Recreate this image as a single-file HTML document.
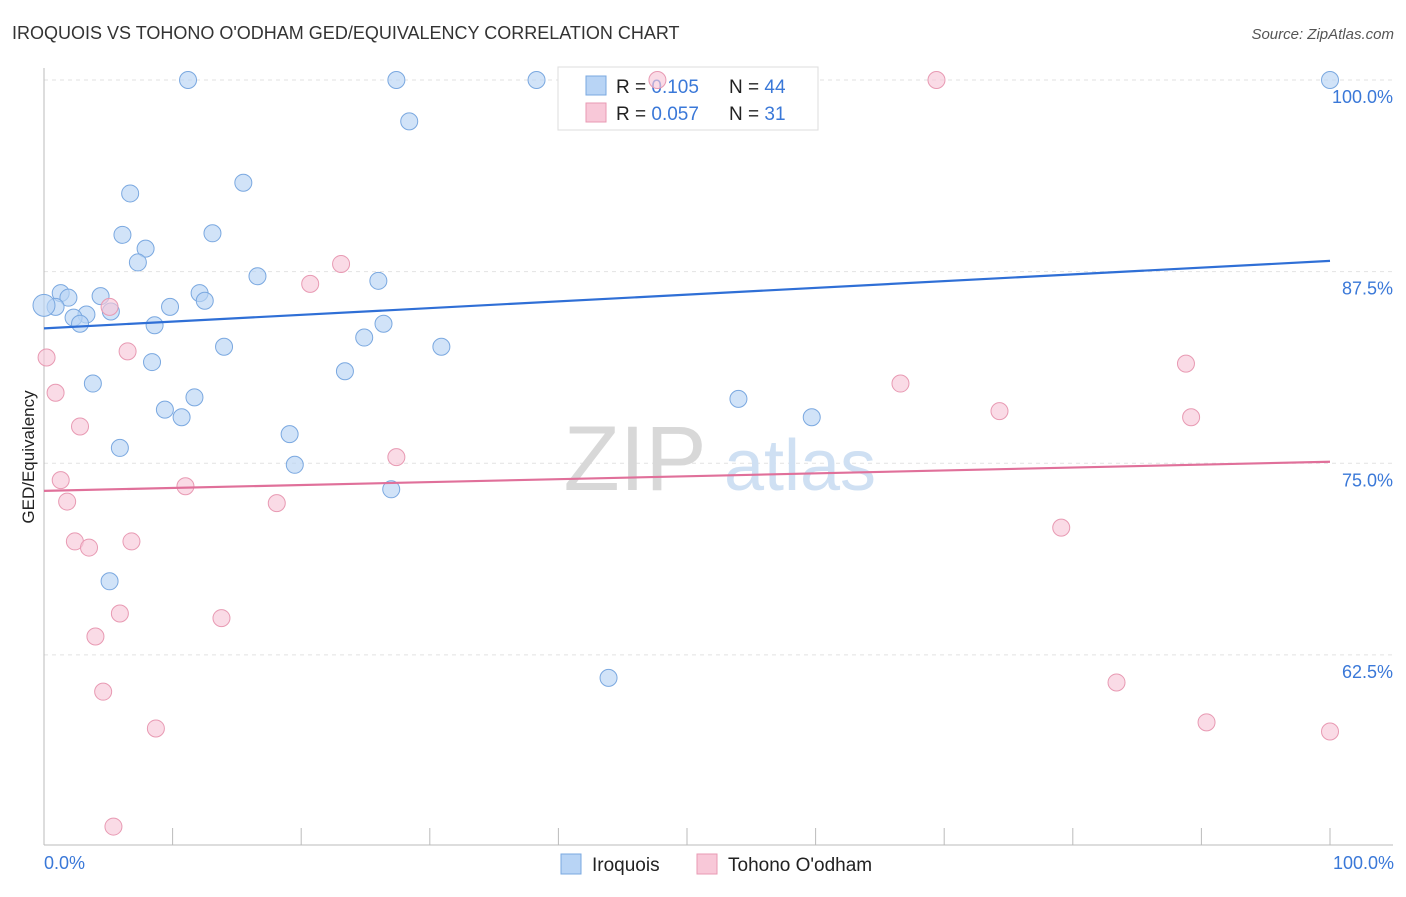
<!DOCTYPE html>
<html><head><meta charset="utf-8"><style>
body{margin:0;background:#fff;font-family:"Liberation Sans",sans-serif;}
svg text{font-family:"Liberation Sans",sans-serif;}
</style></head><body>
<svg width="1406" height="892" viewBox="0 0 1406 892">
<text x="12" y="39" font-size="18" fill="#333">IROQUOIS VS TOHONO O'ODHAM GED/EQUIVALENCY CORRELATION CHART</text>
<text x="1394" y="39" font-size="15" fill="#555" font-style="italic" text-anchor="end">Source: ZipAtlas.com</text>
<g id="grid"></g>
<text x="635" y="490" font-size="92" fill="#d8d8d8" font-family="Liberation Serif" text-anchor="middle">ZIP</text>
<text x="800" y="490" font-size="72" fill="#cfe0f3" text-anchor="middle">atlas</text>
<g>
<rect x="558" y="67" width="260" height="63" fill="#fff" stroke="#ddd"/>
<rect x="586" y="76" width="20" height="19" fill="#b8d4f5" stroke="#7aa8e0"/>
<rect x="586" y="103" width="20" height="19" fill="#f8c8d8" stroke="#e89ab3"/>
<text x="616" y="93" font-size="19" fill="#222">R = <tspan fill="#3a78d8">0.105</tspan><tspan x="729">N = </tspan><tspan fill="#3a78d8">44</tspan></text>
<text x="616" y="120" font-size="19" fill="#222">R = <tspan fill="#3a78d8">0.057</tspan><tspan x="729">N = </tspan><tspan fill="#3a78d8"> 31</tspan></text>
</g>
<g id="pts"></g>
<g id="lines"></g>
<text transform="translate(34,457) rotate(-90)" font-size="17" fill="#222" text-anchor="middle">GED/Equivalency</text>
<text x="44" y="869" font-size="18" fill="#3a78d8">0.0%</text>
<text x="1394" y="869" font-size="18" fill="#3a78d8" text-anchor="end">100.0%</text>
<g>
<rect x="561" y="854" width="20" height="20" fill="#b8d4f5" stroke="#7aa8e0"/>
<text x="592" y="871" font-size="19" fill="#222">Iroquois</text>
<rect x="697" y="854" width="20" height="20" fill="#f8c8d8" stroke="#e89ab3"/>
<text x="728" y="871" font-size="19" fill="#222">Tohono O'odham</text>
</g>
</svg>
<script>
const blueX=[11.2,27.4,38.3,100,28.4,6.7,15.5,6.1,7.9,13.1,7.3,16.6,26.0,1.3,1.9,4.4,12.1,12.5,9.8,0.9,3.3,2.3,5.2,2.8,8.6,26.4,24.9,14.0,30.9,8.4,23.4,3.8,11.7,9.4,10.7,54.0,59.7,19.1,5.9,19.5,27.0,5.1,43.9,0];
const blueY=[100,100,100,100,97.3,92.6,93.3,89.9,89.0,90.0,88.1,87.2,86.9,86.1,85.8,85.9,86.1,85.6,85.2,85.2,84.7,84.5,84.9,84.1,84.0,84.1,83.2,82.6,82.6,81.6,81.0,80.2,79.3,78.5,78.0,79.2,78.0,76.9,76.0,74.9,73.3,67.3,61.0,85.3];
const pinkX=[47.7,69.4,23.1,20.7,5.1,6.5,0.2,0.9,66.6,88.8,2.8,74.3,89.2,27.4,1.3,11.0,1.8,18.1,79.1,2.4,6.8,3.5,5.9,13.8,4.0,4.6,83.4,8.7,90.4,100,5.4];
const pinkY=[100,100,88.0,86.7,85.2,82.3,81.9,79.6,80.2,81.5,77.4,78.4,78.0,75.4,73.9,73.5,72.5,72.4,70.8,69.9,69.9,69.5,65.2,64.9,63.7,60.1,60.7,57.7,58.1,57.5,51.3];
const blueTrend=[83.8,88.2];
const pinkTrend=[73.2,75.1];
const yTicks=[100,87.5,75,62.5];
const yTickLabels=["100.0%","87.5%","75.0%","62.5%"];
const xTicks=[0,10,20,30,40,50,60,70,80,90,100];
const NS="http://www.w3.org/2000/svg";
const X=v=>44+v*12.86, Y=v=>80+(100-v)*15.33;
function mk(t,a,p){const e=document.createElementNS(NS,t);for(const k in a)e.setAttribute(k,a[k]);p.appendChild(e);return e;}
const grid=document.getElementById('grid');
yTicks.forEach((t,i)=>{
 const l=mk('line',{x1:44,x2:1393,y1:Y(t),y2:Y(t),stroke:'#e2e2e2','stroke-dasharray':'4,4'},grid);
 
 
 const tx=mk('text',{x:1393,y:Y(t)+23,'font-size':18,fill:'#3a78d8','text-anchor':'end'},grid);
 tx.textContent=yTickLabels[i];
 
 
});
const ax=mk('line',{x1:44,x2:1393,y1:845,y2:845,stroke:'#bbb'},grid);


const ay=mk('line',{x1:44,x2:44,y1:68,y2:845,stroke:'#bbb'},grid);


xTicks.forEach(t=>{
 const l=mk('line',{x1:X(t),x2:X(t),y1:828,y2:845,stroke:'#bbb'},grid);
 
 
});
const pts=document.getElementById('pts');
function dots(xs,ys,fill,stroke,name){
 xs.forEach((x,i)=>{
  const c=mk('circle',{cx:X(x),cy:Y(ys[i]),r:(name==='iroquois-point'&&x===0)?11:8.5,fill:fill,'fill-opacity':0.65,stroke:stroke,'stroke-width':1},pts);
  
  
 });
}
dots(blueX,blueY,'#b8d4f5','#7aa8e0','iroquois-point');
dots(pinkX,pinkY,'#f8c8d8','#e89ab3','tohono-point');
const lines=document.getElementById('lines');
const bl=mk('line',{x1:X(0),y1:Y(blueTrend[0]),x2:X(100),y2:Y(blueTrend[1]),stroke:'#2f6fd6','stroke-width':2.2},lines);


const pl=mk('line',{x1:X(0),y1:Y(pinkTrend[0]),x2:X(100),y2:Y(pinkTrend[1]),stroke:'#e0709a','stroke-width':2.2},lines);


</script>
</body></html>
